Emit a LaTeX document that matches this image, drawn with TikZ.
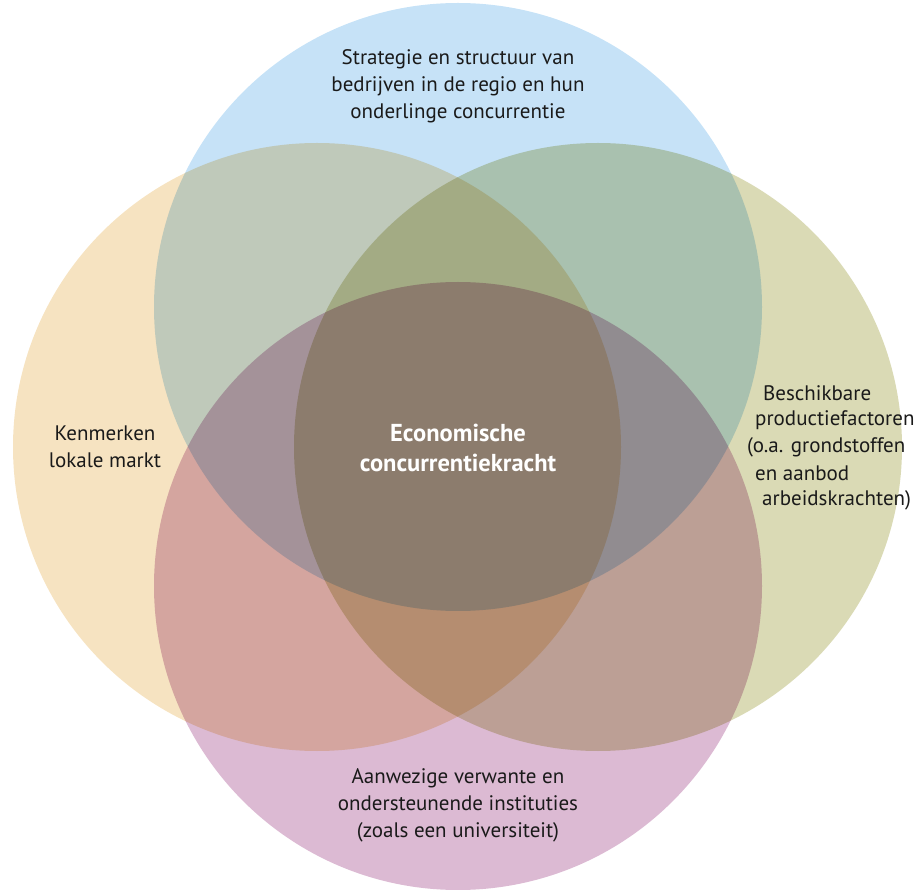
\documentclass[tikz,border=0pt]{standalone}
\usepackage{fontspec}
\setmainfont{PT Sans}
\definecolor{circblue}{RGB}{198,226,247}
\definecolor{circorange}{RGB}{246,227,193}
\definecolor{circolive}{RGB}{218,218,181}
\definecolor{circpink}{RGB}{220,186,211}
\definecolor{labeltext}{RGB}{26,26,26}
\begin{document}
\begin{tikzpicture}[x=1pt,y=-1pt,
  lbl/.style={font=\fontsize{21}{27}\selectfont, text=labeltext, inner sep=0pt, align=center},
  rlbl/.style={font=\fontsize{21}{27}\selectfont, text=labeltext, inner sep=0pt, anchor=west},
  core/.style={font=\fontsize{24.5}{30}\selectfont\bfseries, text=white, inner sep=0pt, align=center}]
  \useasboundingbox (0,0) rectangle (922,890);
  % four overlapping circles, blended by multiplication
  \begin{scope}[blend group=multiply]
    \fill[circblue]   (458,307) circle[radius=304];
    \fill[circorange] (317,447) circle[radius=304];
    \fill[circolive]  (598,447) circle[radius=304];
    \fill[circpink]   (458,586) circle[radius=304];
  \end{scope}
  % labels
  \node[lbl] (top) at (458,86) {Strategie en structuur van\\bedrijven in de regio en hun\\onderlinge concurrentie};
  \node[lbl] (left) at (105,447) {Kenmerken\\lokale markt};
  \node[lbl] (bottom) at (458,805) {Aanwezige verwante en\\ondersteunende instituties\\(zoals een universiteit)};
  \node[core] (center) at (458,448) {Economische\\concurrentiekracht};
  \node[rlbl] (r1) at (763,393) {Beschikbare};
  \node[rlbl] (r2) at (755,420) {productiefactoren};
  \node[rlbl] (r3) at (747,447) {(o.a. grondstoffen};
  \node[rlbl] (r4) at (755,473) {en aanbod};
  \node[rlbl] (r5) at (762,500) {arbeidskrachten)};
\end{tikzpicture}
\end{document}
